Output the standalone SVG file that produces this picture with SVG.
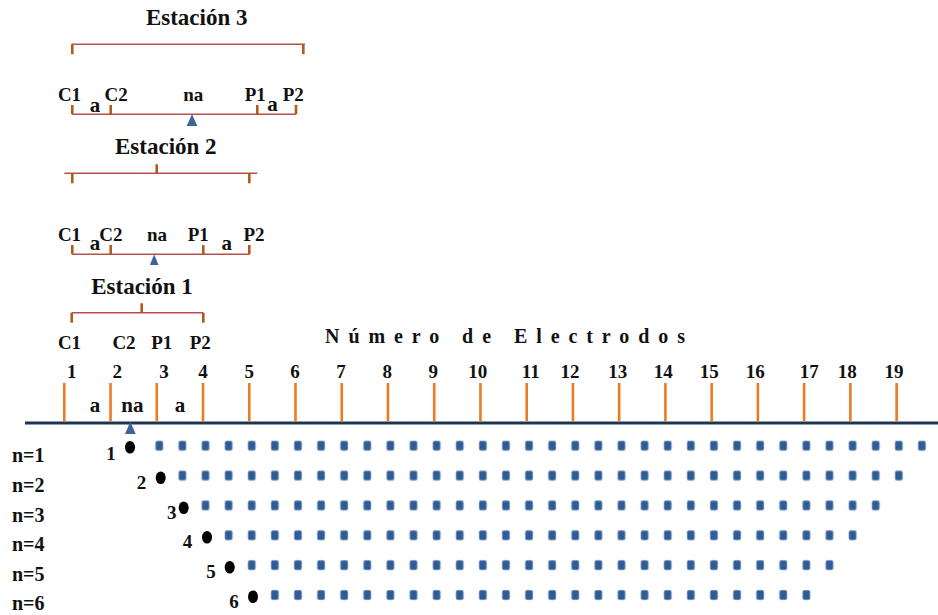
<svg xmlns="http://www.w3.org/2000/svg" width="938" height="615" viewBox="0 0 938 615">
<style>
text{font-family:"Liberation Serif","Times New Roman",serif;font-weight:bold;fill:#111}
.t{font-size:23px;text-anchor:middle}
.l{font-size:19px;text-anchor:middle}
.s{font-size:21px;text-anchor:middle}
.num{font-size:19px;text-anchor:middle}
.n{font-size:20px}
.br{stroke:#b5504c;stroke-width:1.6;fill:none}
.tk{stroke:#b35a1f;stroke-width:2.6;fill:none}
.ot{stroke:#ec7b26;stroke-width:2.6;fill:none}
.tri{fill:#3c6499}
.dot{fill:#000}
</style>
<defs>
<pattern id="sq" patternUnits="userSpaceOnUse" x="147.745" y="430.77" width="23.11" height="29.86">
<rect x="7.9" y="10.3" width="7.3" height="9.3" rx="1.6" fill="#2f5c95" stroke="#6a8dbb" stroke-width="0.6"/>
</pattern>
</defs>

<g id="estacion3">
<text class="t" x="196.7" y="25">Estación 3</text>
<path class="br" d="M71.7 44.3H305"/>
<path class="tk" d="M72.3 44.3V54.3M303.3 44.3V54.3"/>
<path class="br" d="M72.3 114.3H296"/>
<path class="tk" d="M72.3 105V114.3M110.7 105V114.3M257.3 105V114.3M296 105V114.3"/>
<text class="l" x="69.5" y="101">C1</text>
<text class="s" x="95" y="111.5">a</text>
<text class="l" x="116.2" y="101">C2</text>
<text class="l" x="193.3" y="101">na</text>
<text class="l" x="255.3" y="101">P1</text>
<text class="s" x="272.5" y="111">a</text>
<text class="l" x="293.3" y="101">P2</text>
<path class="tri" d="M192 114.3L197.3 126H186.7Z"/>
</g>

<g id="estacion2">
<text class="t" x="165.8" y="154">Estación 2</text>
<path class="br" d="M64.3 173.3H257.3"/>
<path class="tk" d="M72.3 173.3V183.3M249.3 173.3V183.3M156.7 164.3V173.3"/>
<path class="br" d="M72.3 254.3H249.3"/>
<path class="tk" d="M72.3 245V254.3M110.7 245V254.3M203.3 245V254.3M249.3 245V254.3"/>
<text class="l" x="69.5" y="241">C1</text>
<text class="s" x="95" y="249.5">a</text>
<text class="l" x="110.8" y="241">C2</text>
<text class="l" x="157" y="241">na</text>
<text class="l" x="198.3" y="241">P1</text>
<text class="s" x="226.7" y="250">a</text>
<text class="l" x="254" y="241">P2</text>
<path class="tri" d="M154.2 254.3L158.5 265H149.9Z"/>
</g>

<g id="estacion1">
<text class="t" x="142" y="294">Estación 1</text>
<path class="br" d="M71.7 312.7H203.3"/>
<path class="tk" d="M71.7 312.7V322.7M203.3 312.7V322.7M141.7 303.3V312.7"/>
<text class="l" x="69.5" y="349.3">C1</text>
<text class="l" x="124" y="349.3">C2</text>
<text class="l" x="161.7" y="349.3">P1</text>
<text class="l" x="200.3" y="349.3">P2</text>
</g>

<g id="eje">
<text x="325" y="342.5" font-size="20" textLength="360" lengthAdjust="spacing">Número de Electrodos</text>
<path d="M25 423H938" stroke="#1c3553" stroke-width="3"/>
<path class="ot" d="M64.3 383V421.5M110.54 383V421.5M156.78 383V421.5M203.02 383V421.5M249.26 383V421.5M295.5 383V421.5M341.74 383V421.5M387.98 383V421.5M434.22 383V421.5M480.46 383V421.5M526.7 383V421.5M572.94 383V421.5M619.18 383V421.5M665.42 383V421.5M711.66 383V421.5M757.9 383V421.5M804.14 383V421.5M850.38 383V421.5M896.62 383V421.5"/>
<text class="num" x="71.7" y="378">1</text>
<text class="num" x="117.3" y="378">2</text>
<text class="num" x="164" y="378">3</text>
<text class="num" x="203" y="378">4</text>
<text class="num" x="249.3" y="378">5</text>
<text class="num" x="295" y="378">6</text>
<text class="num" x="341" y="378">7</text>
<text class="num" x="387.3" y="378">8</text>
<text class="num" x="433.3" y="378">9</text>
<text class="num" x="477.7" y="378">10</text>
<text class="num" x="530.7" y="378">11</text>
<text class="num" x="570" y="378">12</text>
<text class="num" x="617.7" y="378">13</text>
<text class="num" x="663.3" y="378">14</text>
<text class="num" x="709.3" y="378">15</text>
<text class="num" x="755.3" y="378">16</text>
<text class="num" x="809.3" y="378">17</text>
<text class="num" x="847.3" y="378">18</text>
<text class="num" x="894" y="378">19</text>
<text class="s" x="95" y="411.5">a</text>
<text class="s" x="132.3" y="411.5">na</text>
<text class="s" x="180" y="411.5">a</text>
<path class="tri" d="M130.3 421.7L135.7 434H125Z"/>
</g>

<g id="niveles">
<text class="n" x="12" y="462">n=1</text>
<text class="n" x="12" y="491.7">n=2</text>
<text class="n" x="12" y="521.7">n=3</text>
<text class="n" x="12" y="550.7">n=4</text>
<text class="n" x="12" y="580.7">n=5</text>
<text class="n" x="12" y="610">n=6</text>
<text class="num" x="111" y="459.5">1</text>
<text class="num" x="141.5" y="489.3">2</text>
<text class="num" x="171.7" y="519.3">3</text>
<text class="num" x="187.5" y="548">4</text>
<text class="num" x="211" y="578">5</text>
<text class="num" x="234" y="608">6</text>
<ellipse class="dot" cx="130" cy="447.3" rx="5" ry="6.3"/>
<ellipse class="dot" cx="160.7" cy="477.7" rx="5" ry="6.3"/>
<ellipse class="dot" cx="183.7" cy="507.7" rx="5" ry="6.3"/>
<ellipse class="dot" cx="207" cy="537.3" rx="5" ry="6.3"/>
<ellipse class="dot" cx="229.7" cy="567.3" rx="5" ry="6.3"/>
<ellipse class="dot" cx="253" cy="596.7" rx="5" ry="6.3"/>
<rect x="147.745" y="430.77" width="785.74" height="29.86" fill="url(#sq)"/>
<rect x="170.855" y="460.63" width="739.52" height="29.86" fill="url(#sq)"/>
<rect x="193.965" y="490.49" width="693.3" height="29.86" fill="url(#sq)"/>
<rect x="217.075" y="520.35" width="647.08" height="29.86" fill="url(#sq)"/>
<rect x="240.185" y="550.21" width="600.86" height="29.86" fill="url(#sq)"/>
<rect x="263.295" y="580.07" width="554.64" height="29.86" fill="url(#sq)"/>
</g>

<g id="conectores"></g>
</svg>
